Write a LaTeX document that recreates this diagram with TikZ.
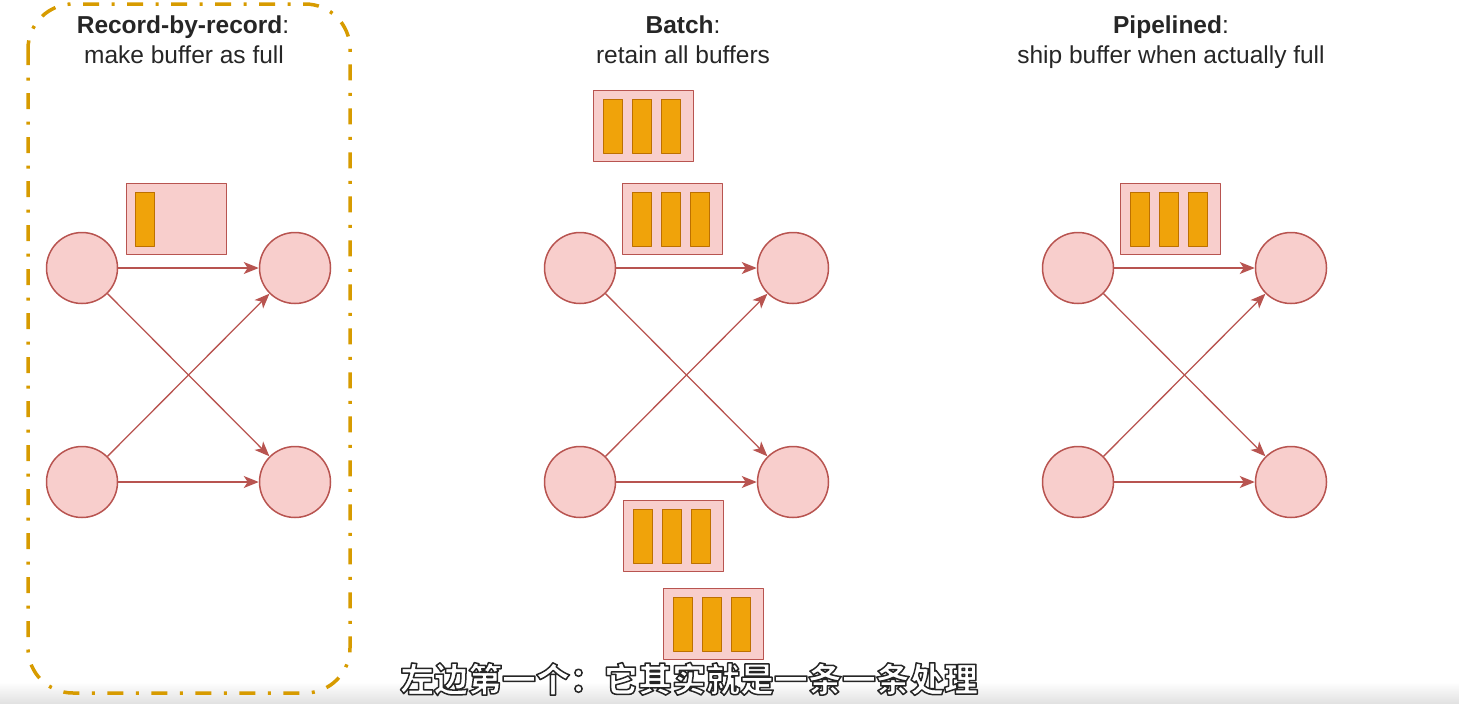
\documentclass[tikz,border=0pt]{standalone}
\usepackage{fontspec}
\setmainfont{Liberation Sans}
\newfontfamily\cjkfont{Noto Sans CJK SC}
\usetikzlibrary{arrows.meta}
\definecolor{hongnhat}{HTML}{F8CECC}
\definecolor{hongdam}{HTML}{B85450}
\definecolor{cam}{HTML}{F0A30A}
\definecolor{camdam}{HTML}{BD7000}
\definecolor{vang}{HTML}{D79B00}
\newcommand\vienchu[1]{\special{pdf:literal 0.15 G 2 Tr 1.5 w}#1\special{pdf:literal 0 Tr}}
\tikzset{
  tron/.style={circle, draw=hongdam, fill=hongnhat, line width=1.5pt, minimum size=71pt, inner sep=0pt},
  hop/.style={rectangle, draw=hongdam, fill=hongnhat, line width=1.2pt, minimum width=100pt, minimum height=71pt, inner sep=0pt, anchor=north west},
  thanh/.style={rectangle, draw=camdam, fill=cam, line width=1pt, minimum width=19pt, minimum height=54pt, inner sep=0pt, anchor=north west},
  muiten/.style={->, draw=hongdam, line width=1.3pt},
  tieude/.style={anchor=base, font=\fontsize{24.5}{30}\selectfont, text=black!85},
  phude/.style={font=\cjkfont\bfseries\fontsize{34}{40}\selectfont, inner sep=0pt, text=white}
}
\begin{document}
\begin{tikzpicture}[x=1pt, y=-1pt, line join=round, >={Stealth[length=15pt, width=12pt, inset=4pt]}]
\useasboundingbox (0,0) rectangle (1459,704);
\shade[top color=white, bottom color=black!12] (0,682) rectangle (1459,704);
% khung cua so do dau
\draw[vang, line width=3.5pt, rounded corners=45pt, dash pattern=on 16pt off 12.5pt on 3pt off 12.5pt] (28,4) rectangle (350,693);
% tieu de
\node[tieude] (t1) at (183,33) {\textbf{Record-by-record}:};
\node[tieude] (t2) at (184,63) {make buffer as full};
\node[tieude] (t3) at (683,33) {\textbf{Batch}:};
\node[tieude] (t4) at (683,63) {retain all buffers};
\node[tieude] (t5) at (1171,33) {\textbf{Pipelined}:};
\node[tieude] (t6) at (1171,63) {ship buffer when actually full};
% ba so do
\foreach \ten/\x in {a/82, b/580, c/1078}{
  \node[tron] (\ten1) at (\x,268) {};
  \node[tron] (\ten2) at (\x,482) {};
  \node[tron] (\ten3) at (\x+213,268) {};
  \node[tron] (\ten4) at (\x+213,482) {};
  \draw[muiten] (\ten1)--(\ten3);
  \draw[muiten] (\ten1)--(\ten4);
  \draw[muiten] (\ten2)--(\ten3);
  \draw[muiten] (\ten2)--(\ten4);
}
% bo dem
\node[hop] (h1) at (126,183) {};
\node[thanh] (h1-0) at ([shift={(9,8.5)}]h1.north west) {};
\foreach \ten/\x/\y in {h2/593/90, h3/622/183, h4/623/500, h5/663/588, h6/1120/183}{
  \node[hop] (\ten) at (\x,\y) {};
  \foreach \i in {0,1,2}
    \node[thanh] (\ten-\i) at ([shift={(10+29*\i,8.5)}]\ten.north west) {};
}
% phu de
\node[phude] (pd) at (689,679) {\vienchu{左边第一个：它其实就是一条一条处理}};
\end{tikzpicture}
\end{document}
